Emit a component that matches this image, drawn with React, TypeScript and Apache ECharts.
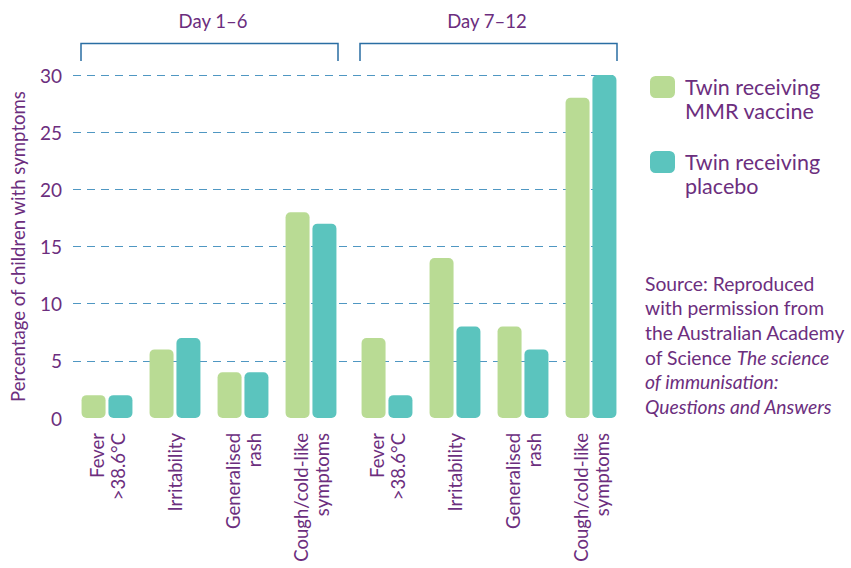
import React, { useEffect, useRef } from "react";
import * as echarts from "echarts";

const categories = ["Fever\n>38.6°C", "Irritability", "Generalised\nrash", "Cough/cold-like\nsymptoms"];
const periods = ["Day 1–6", "Day 7–12"];
const mmrDay1to6 = [2, 6, 4, 18];
const placeboDay1to6 = [2, 7, 4, 17];
const mmrDay7to12 = [7, 14, 8, 28];
const placeboDay7to12 = [2, 8, 6, 30];
const seriesNames = ["Twin receiving\nMMR vaccine", "Twin receiving\nplacebo"];
const yTicks = { min: 0, max: 30, interval: 5 };
const yTitle = "Percentage of children with symptoms";

const PURPLE = "#6c2e7e";
const GREEN = "#b9db94";
const TEAL = "#5bc4be";
const GRID_BLUE = "#4f97c2";
const BRACKET = "#2a6ea3";
const FONT = "Lato";

export default function App() {
  const ref = useRef<HTMLDivElement>(null);
  useEffect(() => {
    document.body.style.margin = "0";
    const chart = echarts.init(ref.current!, null, { renderer: "svg" });
    const top = 75;
    const bottom = 150;
    const catAxis = (gi: number) => ({
      type: "category",
      gridIndex: gi,
      data: categories,
      axisLine: { show: false },
      axisTick: { show: false },
      axisLabel: {
        rotate: 90,
        margin: 15,
        color: PURPLE,
        fontFamily: FONT,
        fontSize: 18.5,
        lineHeight: 21,
        interval: 0,
      },
    });
    const hiddenY = (gi: number) => ({
      type: "value",
      gridIndex: gi,
      ...yTicks,
      axisLine: { show: false },
      axisTick: { show: false },
      axisLabel: { show: false },
      splitLine: { show: false },
    });
    const bar = (name: string, color: string, data: number[], idx: number) => ({
      type: "bar",
      name,
      xAxisIndex: idx,
      yAxisIndex: idx,
      data,
      barWidth: 24,
      barGap: "12%",
      itemStyle: { color, borderRadius: 5 },
    });
    chart.setOption({
      animation: false,
      grid: [
        { left: 73, right: 234, top, bottom },
        { left: 73, width: 272, top, bottom },
        { left: 353, width: 272, top, bottom },
      ],
      xAxis: [
        { type: "value", gridIndex: 0, min: 0, max: 1, show: false },
        catAxis(1),
        catAxis(2),
      ],
      yAxis: [
        {
          type: "value",
          gridIndex: 0,
          ...yTicks,
          name: yTitle,
          nameLocation: "middle",
          nameGap: 46,
          nameTextStyle: { color: PURPLE, fontFamily: FONT, fontSize: 18.6 },
          axisLine: { show: false },
          axisTick: { show: false },
          axisLabel: { color: PURPLE, fontFamily: FONT, fontSize: 19, margin: 11 },
          splitLine: {
            show: true,
            showMinLine: false,
            lineStyle: { color: GRID_BLUE, type: [8, 6], width: 1.2 },
          },
        },
        hiddenY(1),
        hiddenY(2),
      ],
      legend: {
        orient: "vertical",
        left: 645,
        top: 46,
        itemWidth: 25,
        itemHeight: 22,
        itemGap: 3,
        icon: "roundRect",
        data: seriesNames,
        formatter: (n: string) => " \n" + n.split("\n").map((s) => `{t|${s}}`).join("\n"),
        textStyle: {
          color: PURPLE,
          fontFamily: FONT,
          fontSize: 21.5,
          lineHeight: 24,
          rich: {
            t: { color: PURPLE, fontFamily: FONT, fontSize: 21.5, lineHeight: 24, padding: [0, 0, 0, 5] },
          },
        },
      },
      series: [
        bar(seriesNames[0], GREEN, mmrDay1to6, 1),
        bar(seriesNames[1], TEAL, placeboDay1to6, 1),
        bar(seriesNames[0], GREEN, mmrDay7to12, 2),
        bar(seriesNames[1], TEAL, placeboDay7to12, 2),
      ],
      graphic: [
        {
          type: "polyline",
          shape: { points: [[81, 61], [81, 43.5], [338, 43.5], [338, 61]] },
          style: { stroke: BRACKET, lineWidth: 1.5, fill: null },
        },
        {
          type: "polyline",
          shape: { points: [[360, 61], [360, 43.5], [617, 43.5], [617, 61]] },
          style: { stroke: BRACKET, lineWidth: 1.5, fill: null },
        },
        {
          type: "text",
          x: 213,
          y: 21,
          style: { text: periods[0], fill: PURPLE, font: `18.5px ${FONT}`, align: "center", verticalAlign: "middle" },
        },
        {
          type: "text",
          x: 487,
          y: 21,
          style: { text: periods[1], fill: PURPLE, font: `18.5px ${FONT}`, align: "center", verticalAlign: "middle" },
        },
        {
          type: "text",
          left: 645,
          top: 271,
          style: {
            text: "Source: Reproduced\nwith permission from\nthe Australian Academy\nof Science {i|The science}\n{i|of immunisation:}\n{i|Questions and Answers}",
            fill: PURPLE,
            fontFamily: FONT,
            fontSize: 19.3,
            lineHeight: 24.6,
            rich: { i: { fontStyle: "italic", fill: PURPLE, fontFamily: FONT, fontSize: 19.3, lineHeight: 24.6 } },
          },
        },
      ],
    });
    return () => chart.dispose();
  }, []);
  return <div ref={ref} style={{ width: 851, height: 568 }} />;
}
